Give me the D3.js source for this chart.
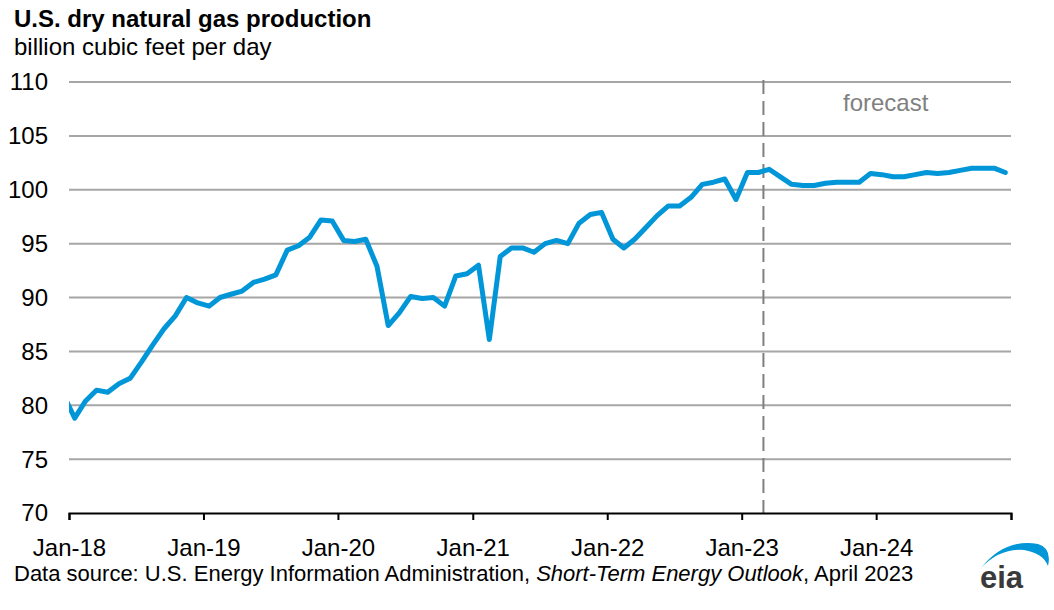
<!DOCTYPE html>
<html>
<head>
<meta charset="utf-8">
<script src="https://cdn.jsdelivr.net/npm/d3@7"></script>
<style>
  html, body { margin: 0; padding: 0; background: #fff; }
  svg { display: block; }
  text { font-family: "Liberation Sans", Arial, sans-serif; }
</style>
</head>
<body>
<svg id="chart" width="1054" height="610"></svg>
<script>
// ---- data ----
const months = [
  "2017-12",
  "2018-01","2018-02","2018-03","2018-04","2018-05","2018-06","2018-07","2018-08","2018-09","2018-10","2018-11","2018-12",
  "2019-01","2019-02","2019-03","2019-04","2019-05","2019-06","2019-07","2019-08","2019-09","2019-10","2019-11","2019-12",
  "2020-01","2020-02","2020-03","2020-04","2020-05","2020-06","2020-07","2020-08","2020-09","2020-10","2020-11","2020-12",
  "2021-01","2021-02","2021-03","2021-04","2021-05","2021-06","2021-07","2021-08","2021-09","2021-10","2021-11","2021-12",
  "2022-01","2022-02","2022-03","2022-04","2022-05","2022-06","2022-07","2022-08","2022-09","2022-10","2022-11","2022-12",
  "2023-01","2023-02","2023-03","2023-04","2023-05","2023-06","2023-07","2023-08","2023-09","2023-10","2023-11","2023-12",
  "2024-01","2024-02","2024-03","2024-04","2024-05","2024-06","2024-07","2024-08","2024-09","2024-10","2024-11","2024-12"
];
const production = [
  81.0,
  78.8, 80.4, 81.4, 81.2, 82.0, 82.5, 84.0, 85.6, 87.1, 88.3, 90.0, 89.5,
  89.2, 90.0, 90.3, 90.6, 91.4, 91.7, 92.1, 94.4, 94.8, 95.6, 97.2, 97.1,
  95.3, 95.2, 95.4, 92.9, 87.4, 88.6, 90.1, 89.9, 90.0, 89.2, 92.0, 92.2,
  93.0, 86.1, 93.8, 94.6, 94.6, 94.2, 95.0, 95.3, 95.0, 96.9, 97.7, 97.9,
  95.4, 94.6, 95.4, 96.5, 97.6, 98.5, 98.5, 99.3, 100.5, 100.7, 101.0, 99.1,
  101.6, 101.6, 101.9, 101.2, 100.5, 100.4, 100.4, 100.6, 100.7, 100.7, 100.7, 101.5,
  101.4, 101.2, 101.2, 101.4, 101.6, 101.5, 101.6, 101.8, 102.0, 102.0, 102.0, 101.6
];
const yTicks = [70, 75, 80, 85, 90, 95, 100, 105, 110];
const xTickDates = ["2018-01","2019-01","2020-01","2021-01","2022-01","2023-01","2024-01","2025-01"];
const xTickLabels = ["Jan-18","Jan-19","Jan-20","Jan-21","Jan-22","Jan-23","Jan-24",""];
const forecastStart = "2023-03";
const chartTitle = "U.S. dry natural gas production";
const chartSubtitle = "billion cubic feet per day";
const forecastLabel = "forecast";

(function () {
  const svg = d3.select("#chart");
  const parse = d3.timeParse("%Y-%m");
  const pL = 69, pR = 1011, pT = 82, pB = 513;

  const x = d3.scaleTime()
    .domain([parse("2018-01"), parse("2025-01")])
    .range([pL, pR]);
  const y = d3.scaleLinear().domain([70, 110]).range([pB, pT]);

  const midMonth = s => {
    const a = parse(s), b = d3.timeMonth.offset(a, 1);
    return new Date((a.getTime() + b.getTime()) / 2);
  };
  const data = months.map((m, i) => ({ date: midMonth(m), value: production[i] }));

  svg.append("rect").attr("width", 1054).attr("height", 610).attr("fill", "#fff");

  // gridlines
  svg.append("g").selectAll("line")
    .data(yTicks.filter(v => v > 70))
    .join("line")
    .attr("x1", pL).attr("x2", pR)
    .attr("y1", d => y(d)).attr("y2", d => y(d))
    .attr("stroke", "#a6a6a6").attr("stroke-width", 2);

  // y labels
  svg.append("g").selectAll("text")
    .data(yTicks)
    .join("text")
    .attr("x", 48).attr("y", d => y(d))
    .attr("dy", "0.35em")
    .attr("text-anchor", "end")
    .attr("font-size", 24)
    .attr("fill", "#000")
    .text(d => d);

  // forecast dashed line
  const fx = x(parse(forecastStart));
  svg.append("line")
    .attr("x1", fx).attr("x2", fx)
    .attr("y1", pT - 2).attr("y2", pB)
    .attr("stroke", "#7f7f7f").attr("stroke-width", 2)
    .attr("stroke-dasharray", "14,7");

  svg.append("text")
    .attr("x", 843).attr("y", 111)
    .attr("font-size", 24)
    .attr("fill", "#808080")
    .text(forecastLabel);

  // x axis
  const xAxis = d3.axisBottom(x)
    .tickValues(xTickDates.map(parse))
    .tickSize(7)
    .tickFormat((d, i) => xTickLabels[i]);
  const gx = svg.append("g").attr("transform", `translate(0,${pB})`).call(xAxis);
  gx.select(".domain").attr("stroke", "#000").attr("stroke-width", 2);
  gx.selectAll(".tick line").attr("stroke", "#000").attr("stroke-width", 2);
  gx.selectAll(".tick text")
    .attr("font-size", 24)
    .attr("font-family", "Liberation Sans, Arial, sans-serif")
    .attr("fill", "#000")
    .attr("y", 26)
    .attr("dy", "0.71em");

  // clip
  svg.append("clipPath").attr("id", "plotclip")
    .append("rect").attr("x", pL).attr("y", 0).attr("width", pR - pL + 10).attr("height", 610);

  // line
  svg.append("path")
    .datum(data)
    .attr("clip-path", "url(#plotclip)")
    .attr("fill", "none")
    .attr("stroke", "#0096d7")
    .attr("stroke-width", 5)
    .attr("stroke-linejoin", "round")
    .attr("stroke-linecap", "round")
    .attr("d", d3.line().x(d => x(d.date)).y(d => y(d.value)));

  // titles
  svg.append("text")
    .attr("x", 14).attr("y", 27)
    .attr("font-size", 24).attr("font-weight", "bold")
    .attr("fill", "#000")
    .text(chartTitle);
  svg.append("text")
    .attr("x", 14).attr("y", 55)
    .attr("font-size", 24)
    .attr("fill", "#000")
    .text(chartSubtitle);

  // footer
  const foot = svg.append("text")
    .attr("x", 14).attr("y", 581)
    .attr("font-size", 22)
    .attr("fill", "#000");
  foot.append("tspan").text("Data source: U.S. Energy Information Administration, ");
  foot.append("tspan").attr("font-style", "italic").text("Short-Term Energy Outlook");
  foot.append("tspan").text(", April 2023");

  // eia logo
  svg.append("path")
    .attr("d", "M981,568 Q1005,538 1038,544 Q1052,548 1048,566 Q1043,553 1024,550 Q1000,548 981,568 Z")
    .attr("fill", "#0096d7");
  svg.append("text")
    .attr("x", 980).attr("y", 588)
    .attr("font-size", 31).attr("font-weight", "bold")
    .attr("fill", "#3a3a3a")
    .text("eia");
})();
</script>
</body>
</html>
